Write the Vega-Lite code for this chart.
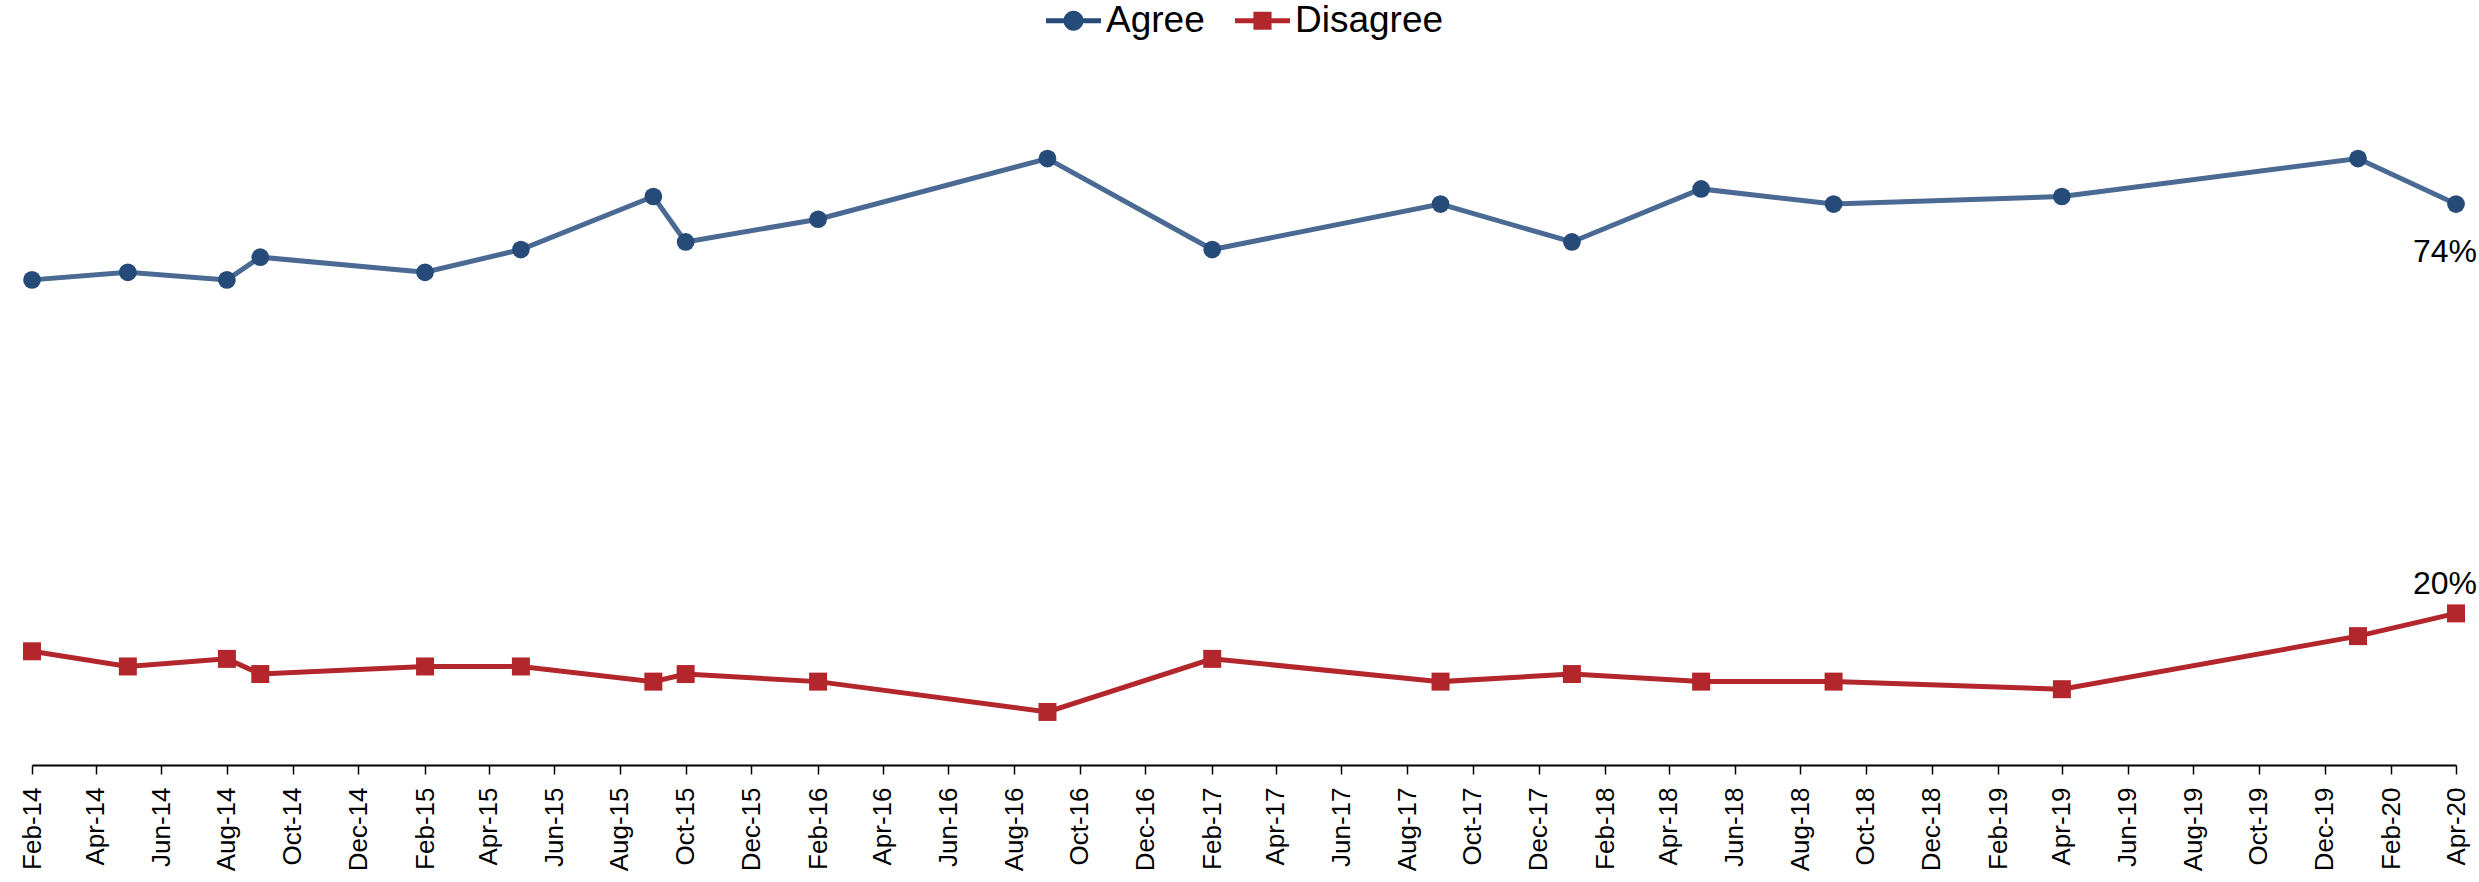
{
  "$schema": "https://vega.github.io/schema/vega-lite/v6.json",
  "width": 2424,
  "height": 758,
  "autosize": {"type": "none"},
  "padding": {"left": 32, "top": 7, "right": 23, "bottom": 117},
  "background": "white",
  "config": {
    "view": {"stroke": null},
    "legend": {
      "title": null,
      "orient": "none",
      "direction": "horizontal",
      "legendX": 1014,
      "legendY": -14,
      "padding": 0,
      "labelFont": "Liberation Sans",
      "labelFontSize": 37,
      "labelColor": "black",
      "labelOffset": 5,
      "columnPadding": 30,
      "symbolSize": 3025,
      "symbolStrokeWidth": 0
    }
  },
  "data": {
    "values": [
      {"date": "2014-02-01", "series": "Agree", "value": 0.64},
      {"date": "2014-05-01", "series": "Agree", "value": 0.65},
      {"date": "2014-08-01", "series": "Agree", "value": 0.64},
      {"date": "2014-09-01", "series": "Agree", "value": 0.67},
      {"date": "2015-02-01", "series": "Agree", "value": 0.65},
      {"date": "2015-05-01", "series": "Agree", "value": 0.68},
      {"date": "2015-09-01", "series": "Agree", "value": 0.75},
      {"date": "2015-10-01", "series": "Agree", "value": 0.69},
      {"date": "2016-02-01", "series": "Agree", "value": 0.72},
      {"date": "2016-09-01", "series": "Agree", "value": 0.80},
      {"date": "2017-02-01", "series": "Agree", "value": 0.68},
      {"date": "2017-09-01", "series": "Agree", "value": 0.74},
      {"date": "2018-01-01", "series": "Agree", "value": 0.69},
      {"date": "2018-05-01", "series": "Agree", "value": 0.76},
      {"date": "2018-09-01", "series": "Agree", "value": 0.74},
      {"date": "2019-04-01", "series": "Agree", "value": 0.75},
      {"date": "2020-01-01", "series": "Agree", "value": 0.80},
      {"date": "2020-04-01", "series": "Agree", "value": 0.74},
      {"date": "2014-02-01", "series": "Disagree", "value": 0.15},
      {"date": "2014-05-01", "series": "Disagree", "value": 0.13},
      {"date": "2014-08-01", "series": "Disagree", "value": 0.14},
      {"date": "2014-09-01", "series": "Disagree", "value": 0.12},
      {"date": "2015-02-01", "series": "Disagree", "value": 0.13},
      {"date": "2015-05-01", "series": "Disagree", "value": 0.13},
      {"date": "2015-09-01", "series": "Disagree", "value": 0.11},
      {"date": "2015-10-01", "series": "Disagree", "value": 0.12},
      {"date": "2016-02-01", "series": "Disagree", "value": 0.11},
      {"date": "2016-09-01", "series": "Disagree", "value": 0.07},
      {"date": "2017-02-01", "series": "Disagree", "value": 0.14},
      {"date": "2017-09-01", "series": "Disagree", "value": 0.11},
      {"date": "2018-01-01", "series": "Disagree", "value": 0.12},
      {"date": "2018-05-01", "series": "Disagree", "value": 0.11},
      {"date": "2018-09-01", "series": "Disagree", "value": 0.11},
      {"date": "2019-04-01", "series": "Disagree", "value": 0.10},
      {"date": "2020-01-01", "series": "Disagree", "value": 0.17},
      {"date": "2020-04-01", "series": "Disagree", "value": 0.20}
    ]
  },
  "encoding": {
    "x": {
      "field": "date",
      "type": "temporal",
      "scale": {
        "type": "utc",
        "nice": false,
        "domain": [
          {"year": 2014, "month": 2, "date": 1, "utc": true},
          {"year": 2020, "month": 4, "date": 1, "utc": true}
        ]
      },
      "axis": {
        "title": null,
        "format": "%b-%y",
        "labelAngle": 270,
        "labelFont": "Liberation Sans",
        "labelFontSize": 26,
        "labelColor": "black",
        "labelPadding": 13,
        "labelOverlap": false,
        "labelFlush": false,
        "labelBound": false,
        "tickSize": 9,
        "tickWidth": 1.5,
        "tickColor": "black",
        "domainColor": "black",
        "domainWidth": 2,
        "grid": false,
        "values": [
          {"year": 2014, "month": 2, "date": 1, "utc": true},
          {"year": 2014, "month": 4, "date": 1, "utc": true},
          {"year": 2014, "month": 6, "date": 1, "utc": true},
          {"year": 2014, "month": 8, "date": 1, "utc": true},
          {"year": 2014, "month": 10, "date": 1, "utc": true},
          {"year": 2014, "month": 12, "date": 1, "utc": true},
          {"year": 2015, "month": 2, "date": 1, "utc": true},
          {"year": 2015, "month": 4, "date": 1, "utc": true},
          {"year": 2015, "month": 6, "date": 1, "utc": true},
          {"year": 2015, "month": 8, "date": 1, "utc": true},
          {"year": 2015, "month": 10, "date": 1, "utc": true},
          {"year": 2015, "month": 12, "date": 1, "utc": true},
          {"year": 2016, "month": 2, "date": 1, "utc": true},
          {"year": 2016, "month": 4, "date": 1, "utc": true},
          {"year": 2016, "month": 6, "date": 1, "utc": true},
          {"year": 2016, "month": 8, "date": 1, "utc": true},
          {"year": 2016, "month": 10, "date": 1, "utc": true},
          {"year": 2016, "month": 12, "date": 1, "utc": true},
          {"year": 2017, "month": 2, "date": 1, "utc": true},
          {"year": 2017, "month": 4, "date": 1, "utc": true},
          {"year": 2017, "month": 6, "date": 1, "utc": true},
          {"year": 2017, "month": 8, "date": 1, "utc": true},
          {"year": 2017, "month": 10, "date": 1, "utc": true},
          {"year": 2017, "month": 12, "date": 1, "utc": true},
          {"year": 2018, "month": 2, "date": 1, "utc": true},
          {"year": 2018, "month": 4, "date": 1, "utc": true},
          {"year": 2018, "month": 6, "date": 1, "utc": true},
          {"year": 2018, "month": 8, "date": 1, "utc": true},
          {"year": 2018, "month": 10, "date": 1, "utc": true},
          {"year": 2018, "month": 12, "date": 1, "utc": true},
          {"year": 2019, "month": 2, "date": 1, "utc": true},
          {"year": 2019, "month": 4, "date": 1, "utc": true},
          {"year": 2019, "month": 6, "date": 1, "utc": true},
          {"year": 2019, "month": 8, "date": 1, "utc": true},
          {"year": 2019, "month": 10, "date": 1, "utc": true},
          {"year": 2019, "month": 12, "date": 1, "utc": true},
          {"year": 2020, "month": 2, "date": 1, "utc": true},
          {"year": 2020, "month": 4, "date": 1, "utc": true}
        ]
      }
    },
    "y": {
      "field": "value",
      "type": "quantitative",
      "scale": {"domain": [0, 1], "nice": false},
      "axis": null
    }
  },
  "layer": [
    {
      "mark": {"type": "line", "strokeWidth": 5, "clip": false},
      "encoding": {
        "stroke": {
          "field": "series",
          "type": "nominal",
          "scale": {"domain": ["Agree", "Disagree"], "range": ["#4a6a93", "#b3262c"]},
          "legend": {
            "encode": {
              "symbols": {
                "update": {
                  "shape": {
                    "signal": "datum.value === 'Agree' ? 'M-1,-0.09L-0.35,-0.09L-0.35,0.09L-1,0.09Z M0.35,-0.09L1,-0.09L1,0.09L0.35,0.09Z M-0.364,0A0.364,0.364 0 1,1 0.364,0A0.364,0.364 0 1,1 -0.364,0Z' : 'M-1,-0.09L-0.33,-0.09L-0.33,0.09L-1,0.09Z M0.33,-0.09L1,-0.09L1,0.09L0.33,0.09Z M-0.33,-0.33L0.33,-0.33L0.33,0.33L-0.33,0.33Z'"
                  },
                  "strokeWidth": {"value": 0}
                }
              }
            }
          }
        }
      }
    },
    {
      "transform": [{"filter": "datum.series == 'Agree'"}],
      "mark": {"type": "point", "shape": "circle", "filled": true, "size": 314, "opacity": 1, "clip": false},
      "encoding": {
        "fill": {
          "field": "series",
          "type": "nominal",
          "scale": {"domain": ["Agree", "Disagree"], "range": ["#264b78", "#b3262c"]},
          "legend": {
            "encode": {
              "symbols": {
                "update": {
                  "shape": {
                    "signal": "datum.value === 'Agree' ? 'M-1,-0.09L-0.35,-0.09L-0.35,0.09L-1,0.09Z M0.35,-0.09L1,-0.09L1,0.09L0.35,0.09Z M-0.364,0A0.364,0.364 0 1,1 0.364,0A0.364,0.364 0 1,1 -0.364,0Z' : 'M-1,-0.09L-0.33,-0.09L-0.33,0.09L-1,0.09Z M0.33,-0.09L1,-0.09L1,0.09L0.33,0.09Z M-0.33,-0.33L0.33,-0.33L0.33,0.33L-0.33,0.33Z'"
                  },
                  "strokeWidth": {"value": 0}
                }
              }
            }
          }
        }
      }
    },
    {
      "transform": [{"filter": "datum.series == 'Disagree'"}],
      "mark": {"type": "point", "shape": "square", "filled": true, "size": 324, "opacity": 1, "clip": false},
      "encoding": {
        "fill": {"field": "series", "type": "nominal"}
      }
    },
    {
      "transform": [{"filter": "datum.series == 'Agree' && utcyear(datum.date) == 2020 && utcmonth(datum.date) == 3"}],
      "mark": {"type": "text", "align": "right", "baseline": "alphabetic", "dx": 21, "dy": 58, "font": "Liberation Sans", "fontSize": 32, "color": "black"},
      "encoding": {
        "text": {"field": "value", "type": "quantitative", "format": ".0%"}
      }
    },
    {
      "transform": [{"filter": "datum.series == 'Disagree' && utcyear(datum.date) == 2020 && utcmonth(datum.date) == 3"}],
      "mark": {"type": "text", "align": "right", "baseline": "alphabetic", "dx": 21, "dy": -19, "font": "Liberation Sans", "fontSize": 32, "color": "black"},
      "encoding": {
        "text": {"field": "value", "type": "quantitative", "format": ".0%"}
      }
    }
  ]
}
